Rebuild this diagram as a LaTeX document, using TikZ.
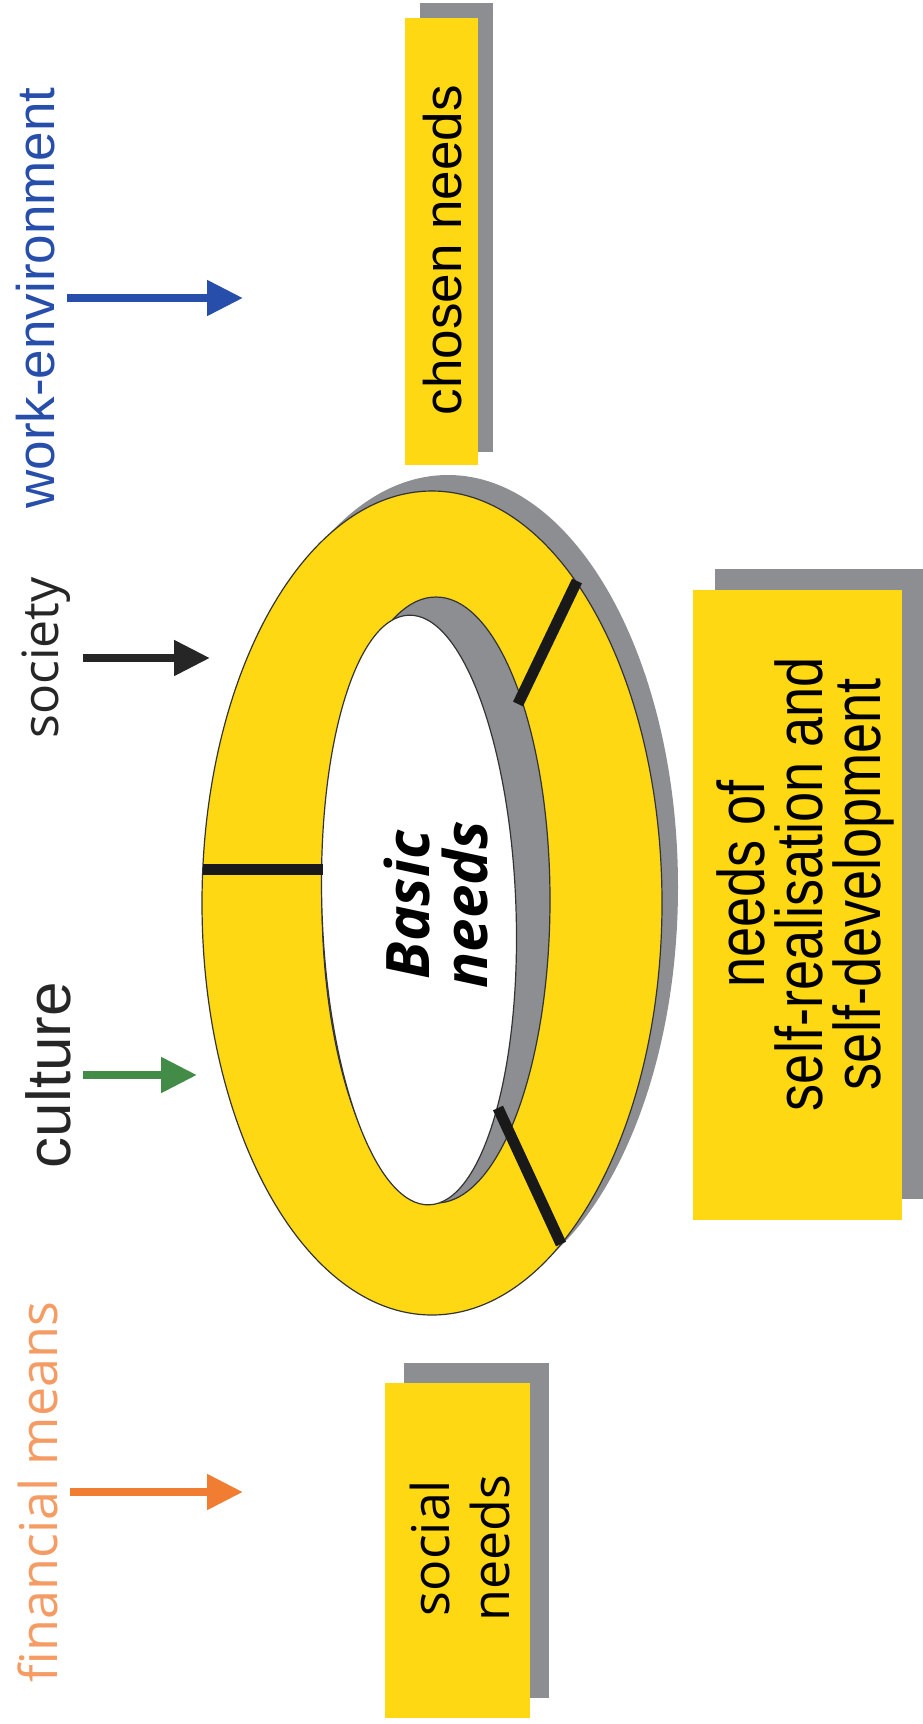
\documentclass[tikz,border=0pt]{standalone}
\usepackage{fontspec}
\setmainfont{Liberation Sans}
\newfontfamily\opensans{Open Sans}
\newfontfamily\narrowsans[FakeStretch=0.82]{Liberation Sans}
\usetikzlibrary{arrows.meta}
\definecolor{needyellow}{RGB}{255,216,20}
\definecolor{shadegray}{RGB}{141,142,146}
\definecolor{workblue}{RGB}{38,78,170}
\definecolor{culturegreen}{RGB}{66,140,72}
\definecolor{moneyorange}{RGB}{240,125,50}
\definecolor{moneytext}{RGB}{245,155,100}

\begin{document}
\begin{tikzpicture}[x=1pt, y=-1pt,
  factor/.style={rotate=90, anchor=south, inner sep=0pt},
  influence/.style={line width=8pt, -{Triangle[length=36pt,width=34pt]}, shorten <=12pt},
  needbox/.style={fill=needyellow, rotate=90, inner sep=0pt},
  needshade/.style={fill=shadegray, rotate=90, inner sep=0pt},
  needtext/.style={rotate=90, align=center, inner sep=0pt},
  rim/.style={draw=black!80, line width=1.2pt},
  divider/.style={line width=11pt, black!90}]
  \useasboundingbox (0,0) rectangle (922,1724);

  % the ring of needs
  \fill[shadegray] (448,887) ellipse [x radius=230, y radius=412];
  \fill[needyellow, rim] (432,903) ellipse [x radius=230, y radius=412];
  \fill[shadegray, rim] (436,900) ellipse [x radius=114, y radius=303];
  \fill[white, rim, rotate around={2:(419,910)}] (419,910) ellipse [x radius=97, y radius=295];
  \draw[divider] (203,869) -- (323,869);
  \draw[divider] (577,581) -- (518,704);
  \draw[divider] (498,1108) -- (561,1244);
  \node[needtext, font=\opensans\bfseries\itshape\fontsize{60}{58}\selectfont]
    (basic) at (436,905) {Basic\\needs};

  % boxes with their shadows
  \node[needshade, minimum width=449, minimum height=73] (chosenshade) at (456.5,227.5) {};
  \node[needbox, minimum width=447, minimum height=73] (chosen) at (441.5,241.5) {};
  \node[needtext, font=\fontsize{53}{60}\selectfont] (chosentext) at (443,250) {chosen needs};
  \node[needshade, minimum width=630, minimum height=209] (selfshade) at (819.5,884) {};
  \node[needbox, minimum width=630, minimum height=209] (self) at (797.5,905) {};
  \node[needtext, font=\narrowsans\fontsize{66}{58}\selectfont]
    (selftext) at (805,884) {needs of\\self-realisation and\\self-development};
  \node[needshade, minimum width=335, minimum height=145] (socialshade) at (476.5,1530.5) {};
  \node[needbox, minimum width=335, minimum height=145] (social) at (457.5,1550.5) {};
  \node[needtext, font=\opensans\fontsize{52}{60}\selectfont] (socialtext) at (460,1548) {social\\needs};

  % outside factors
  \node[factor, text=workblue, font=\fontsize{53}{60}\selectfont] (workenv) at (55,298) {work-environment};
  \node[factor, text=black!85, font=\opensans\fontsize{50}{60}\selectfont] (society) at (71,658) {society};
  \node[factor, text=black!85, font=\fontsize{62}{70}\selectfont] (culture) at (71,1075) {culture};
  \node[factor, text=moneytext, font=\opensans\fontsize{52}{60}\selectfont] (money) at (58,1492) {financial means};
  \coordinate (workenvtip) at (243,298);
  \coordinate (societytip) at (210,658);
  \coordinate (culturetip) at (197,1075);
  \coordinate (moneytip) at (243,1492);
  \draw[influence, workblue] (workenv.south) -- (workenvtip);
  \draw[influence, black!85] (society.south) -- (societytip);
  \draw[influence, culturegreen] (culture.south) -- (culturetip);
  \draw[influence, moneyorange] (money.south) -- (moneytip);
\end{tikzpicture}
\end{document}
